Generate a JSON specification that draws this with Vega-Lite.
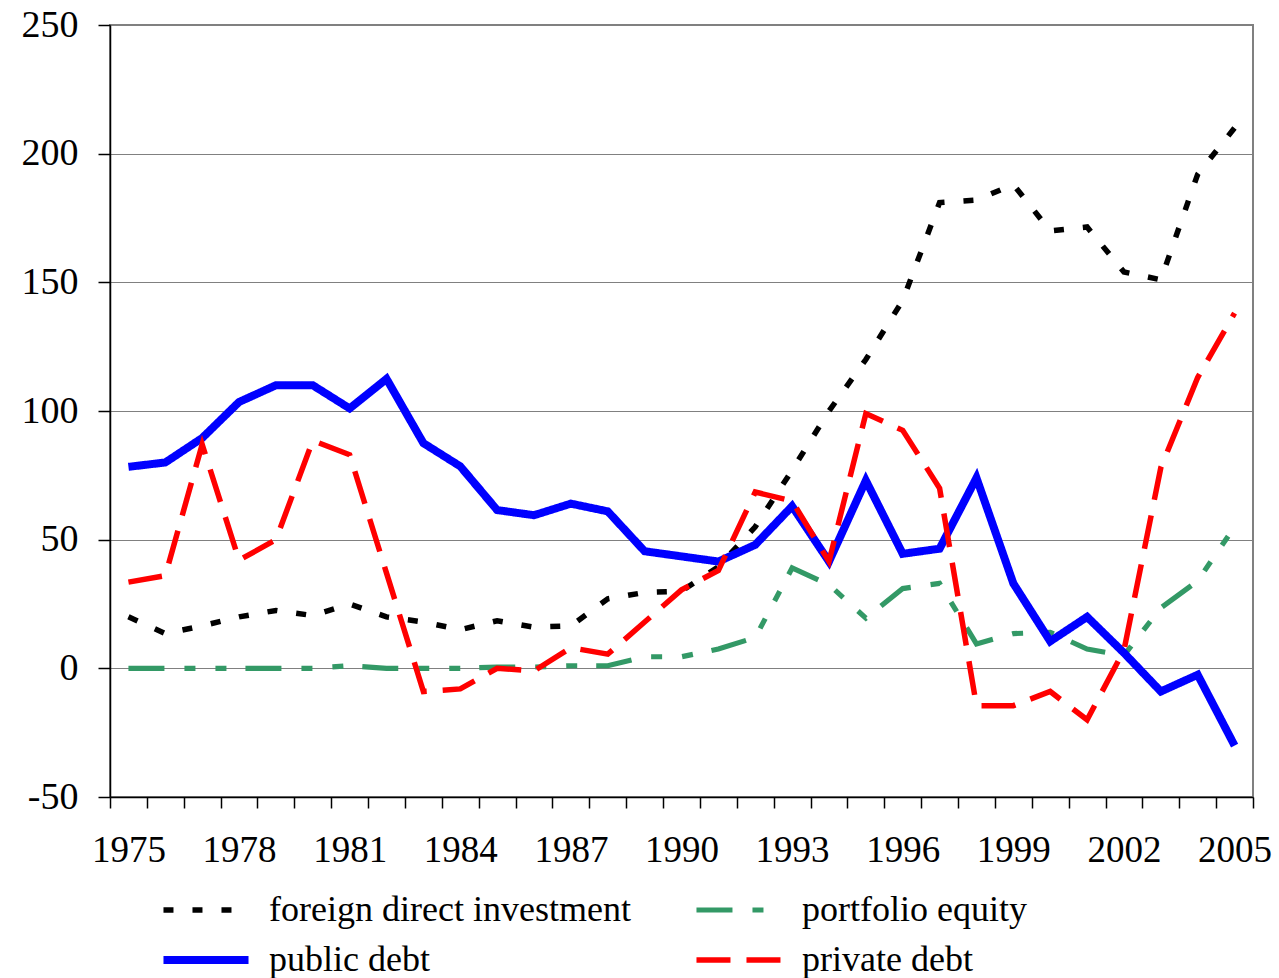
{
  "$schema": "https://vega.github.io/schema/vega-lite/v6.json",
  "width": 1143,
  "height": 772,
  "autosize": {"type": "none"},
  "padding": {"left": 110, "top": 25, "right": 26, "bottom": 181},
  "background": "white",
  "config": {
    "view": {"stroke": "#808080", "strokeWidth": 2},
    "font": "Liberation Serif"
  },
  "data": {
    "values": [
      {"year": 1975, "foreign direct investment": 20, "portfolio equity": 0, "public debt": 78.3, "private debt": 33.5},
      {"year": 1976, "foreign direct investment": 13.5, "portfolio equity": 0, "public debt": 80, "private debt": 36},
      {"year": 1977, "foreign direct investment": 16.5, "portfolio equity": 0, "public debt": 89.5, "private debt": 87},
      {"year": 1978, "foreign direct investment": 20, "portfolio equity": 0, "public debt": 103.5, "private debt": 42},
      {"year": 1979, "foreign direct investment": 22.5, "portfolio equity": 0, "public debt": 110, "private debt": 50},
      {"year": 1980, "foreign direct investment": 20.5, "portfolio equity": 0, "public debt": 110, "private debt": 88.5},
      {"year": 1981, "foreign direct investment": 25, "portfolio equity": 1, "public debt": 101, "private debt": 83},
      {"year": 1982, "foreign direct investment": 20, "portfolio equity": 0, "public debt": 112.5, "private debt": 37},
      {"year": 1983, "foreign direct investment": 18, "portfolio equity": 0, "public debt": 87.5, "private debt": -9},
      {"year": 1984, "foreign direct investment": 15, "portfolio equity": 0, "public debt": 78.5, "private debt": -8},
      {"year": 1985, "foreign direct investment": 18.5, "portfolio equity": 0.5, "public debt": 61.5, "private debt": 0},
      {"year": 1986, "foreign direct investment": 16, "portfolio equity": 0.5, "public debt": 59.5, "private debt": -1},
      {"year": 1987, "foreign direct investment": 16.5, "portfolio equity": 1, "public debt": 64, "private debt": 8},
      {"year": 1988, "foreign direct investment": 27, "portfolio equity": 1, "public debt": 61, "private debt": 5.5},
      {"year": 1989, "foreign direct investment": 29.5, "portfolio equity": 4.5, "public debt": 45.5, "private debt": 18},
      {"year": 1990, "foreign direct investment": 30, "portfolio equity": 4.5, "public debt": 43.5, "private debt": 30.5},
      {"year": 1991, "foreign direct investment": 39.5, "portfolio equity": 7.5, "public debt": 41.5, "private debt": 38},
      {"year": 1992, "foreign direct investment": 55, "portfolio equity": 12, "public debt": 48, "private debt": 68.5},
      {"year": 1993, "foreign direct investment": 77, "portfolio equity": 39, "public debt": 63, "private debt": 65},
      {"year": 1994, "foreign direct investment": 100, "portfolio equity": 32.5, "public debt": 41.5, "private debt": 41.5},
      {"year": 1995, "foreign direct investment": 120, "portfolio equity": 19.5, "public debt": 73, "private debt": 99},
      {"year": 1996, "foreign direct investment": 143, "portfolio equity": 31, "public debt": 44.5, "private debt": 92.5},
      {"year": 1997, "foreign direct investment": 181, "portfolio equity": 33, "public debt": 46.5, "private debt": 70},
      {"year": 1998, "foreign direct investment": 182, "portfolio equity": 9.5, "public debt": 74, "private debt": -14.5},
      {"year": 1999, "foreign direct investment": 188, "portfolio equity": 13.5, "public debt": 33, "private debt": -14.5},
      {"year": 2000, "foreign direct investment": 170, "portfolio equity": 14, "public debt": 10.5, "private debt": -9},
      {"year": 2001, "foreign direct investment": 171.5, "portfolio equity": 7.5, "public debt": 20, "private debt": -20},
      {"year": 2002, "foreign direct investment": 154, "portfolio equity": 5, "public debt": 6, "private debt": 7},
      {"year": 2003, "foreign direct investment": 151, "portfolio equity": 23.5, "public debt": -9, "private debt": 78},
      {"year": 2004, "foreign direct investment": 192, "portfolio equity": 34, "public debt": -2.5, "private debt": 113},
      {"year": 2005, "foreign direct investment": 210, "portfolio equity": 55, "public debt": -30, "private debt": 138}
    ]
  },
  "transform": [
    {"fold": ["foreign direct investment", "portfolio equity", "public debt", "private debt"], "as": ["series", "value"]}
  ],
  "mark": {"type": "line", "strokeCap": "butt", "strokeJoin": "miter"},
  "encoding": {
    "x": {
      "field": "year",
      "type": "quantitative",
      "scale": {"domain": [1974.5, 2005.5], "nice": false, "zero": false},
      "axis": {
        "title": null,
        "values": [1974.5, 1975.5, 1976.5, 1977.5, 1978.5, 1979.5, 1980.5, 1981.5, 1982.5, 1983.5, 1984.5, 1985.5, 1986.5, 1987.5, 1988.5, 1989.5, 1990.5, 1991.5, 1992.5, 1993.5, 1994.5, 1995.5, 1996.5, 1997.5, 1998.5, 1999.5, 2000.5, 2001.5, 2002.5, 2003.5, 2004.5, 2005.5],
        "labelExpr": "(datum.value - 0.5 - 1975) % 3 == 0 ? '' + (datum.value - 0.5) : ''",
        "labelOffset": -18.44,
        "labelFlush": false,
        "labelOverlap": false,
        "labelBound": false,
        "labelFont": "Liberation Serif",
        "labelFontSize": 37,
        "labelColor": "#000000",
        "labelPadding": 24,
        "tickSize": 11,
        "tickColor": "#000000",
        "tickWidth": 1.5,
        "domainColor": "#000000",
        "domainWidth": 1.5,
        "grid": false
      }
    },
    "y": {
      "field": "value",
      "type": "quantitative",
      "scale": {"domain": [-50, 250], "nice": false, "zero": false},
      "axis": {
        "title": null,
        "values": [-50, 0, 50, 100, 150, 200, 250],
        "labelExpr": "datum.value < 0 ? '-' + abs(datum.value) : '' + datum.value",
        "grid": true,
        "gridColor": "#808080",
        "gridWidth": 1.2,
        "gridOpacity": 1,
        "tickSize": 12,
        "tickColor": "#000000",
        "tickWidth": 1.5,
        "domainColor": "#000000",
        "domainWidth": 1.5,
        "labelFont": "Liberation Serif",
        "labelFontSize": 38,
        "labelColor": "#000000",
        "labelPadding": 20
      }
    },
    "color": {
      "field": "series",
      "type": "nominal",
      "scale": {
        "domain": ["foreign direct investment", "portfolio equity", "public debt", "private debt"],
        "range": ["#000000", "#339966", "#0000ff", "#ff0000"]
      },
      "legend": {
        "title": null,
        "orient": "none",
        "legendX": 78,
        "legendY": 867,
        "columns": 2,
        "direction": "horizontal",
        "padding": 0,
        "columnPadding": 54,
        "rowPadding": 14,
        "labelFont": "Liberation Serif",
        "labelFontSize": 36,
        "labelColor": "#000000",
        "labelOffset": 45,
        "labelLimit": 0,
        "symbolType": "M-4,0H4",
        "symbolSize": 452
      }
    },
    "strokeDash": {
      "field": "series",
      "type": "nominal",
      "scale": {
        "domain": ["foreign direct investment", "portfolio equity", "public debt", "private debt"],
        "range": [[10, 19], [36, 20, 11, 20, 11, 19], [1, 0], [34, 16]]
      }
    },
    "strokeWidth": {
      "field": "series",
      "type": "nominal",
      "scale": {
        "type": "ordinal",
        "domain": ["foreign direct investment", "portfolio equity", "public debt", "private debt"],
        "range": [5.5, 5.2, 8, 5.5]
      }
    }
  }
}
